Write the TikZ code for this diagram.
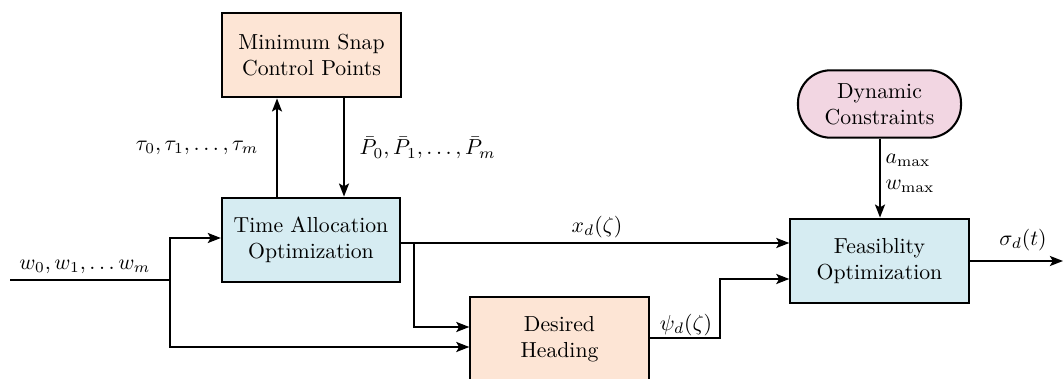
\documentclass[tikz,border=0pt]{standalone}
\usetikzlibrary{arrows.meta}
\definecolor{peach}{RGB}{253,229,213}
\definecolor{lblue}{RGB}{214,236,242}
\definecolor{lpink}{RGB}{242,214,226}
\begin{document}
\begin{tikzpicture}[x=0.46pt,y=-0.46pt,
  box/.style={draw,line width=0.95pt,minimum width=82pt,minimum height=39pt,align=center,inner sep=2pt},
  arr/.style={line width=0.95pt,-{Stealth[length=6pt,width=4.6pt,inset=1.3pt]}},
  ln/.style={line width=0.95pt}]
\useasboundingbox (0,0) rectangle (1063,379);
\node[box,fill=peach] (ms) at (311.5,55) {Minimum Snap\\Control Points};
\node[box,fill=lblue] (ta) at (311,240) {Time Allocation\\Optimization};
\node[box,fill=peach] (dh) at (559.5,339) {Desired\\Heading};
\node[box,fill=lblue] (fo) at (879.5,261) {Feasiblity\\Optimization};
\node[draw,line width=0.95pt,fill=lpink,rounded corners=15pt,minimum width=75pt,minimum height=31pt,align=center,inner sep=2pt] (dc) at (879.5,104) {Dynamic\\Constraints};
% coordinates
\coordinate (cup) at (277,0);
\coordinate (cdn) at (344,0);
\coordinate (in) at (10,280);
\coordinate (sp) at (170,280);
\coordinate (y1) at (0,238);
\coordinate (y2) at (0,347);
\coordinate (yx) at (0,243);
\coordinate (br) at (414,243);
\coordinate (y3) at (0,327);
\coordinate (yp) at (0,338);
\coordinate (yq) at (0,279);
\coordinate (jx) at (720,0);
\coordinate (out) at (1063,261);
\coordinate (cdc) at (880,0);
% connectors
\draw[arr] (ta.north -| cup) -- (ms.south -| cup);
\draw[arr] (ms.south -| cdn) -- (ta.north -| cdn);
\draw[ln] (in) -- (sp);
\draw[arr] (sp) |- (ta.west |- y1);
\draw[arr] (sp) |- (dh.west |- y2);
\draw[arr] (ta.east |- yx) -- (fo.west |- yx);
\draw[arr] (br) |- (dh.west |- y3);
\draw[arr] (dh.east |- yp) -| (jx |- yq) -- (fo.west |- yq);
\draw[arr] (fo.east |- out) -- (out);
\draw[arr] (dc.south -| cdc) -- (fo.north -| cdc);
% labels
\node[anchor=east] (lt) at (266,148) {$\tau_0,\tau_1,\dots,\tau_m$};
\node[anchor=west] (lp) at (352,148) {$\bar{P}_0,\bar{P}_1,\dots,\bar{P}_m$};
\node (lw) at (85,267) {$w_0,w_1,\dots w_m$};
\node (lx) at (597,227) {$x_d(\zeta)$};
\node (lpsi) at (686,325) {$\psi_d(\zeta)$};
\node (ls) at (1023,240) {$\sigma_d(t)$};
\node[anchor=west,align=left,inner sep=1pt] (la) at (883,173) {$a_{\max}$\\$w_{\max}$};
\end{tikzpicture}
\end{document}
